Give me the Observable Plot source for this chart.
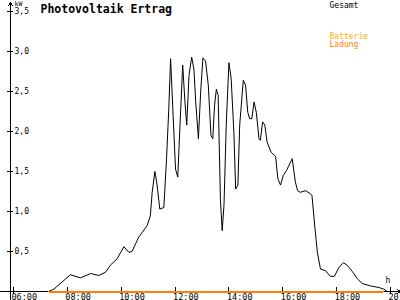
<!DOCTYPE html>
<html><head><meta charset="utf-8">
<script src="https://cdn.jsdelivr.net/npm/d3@7"></script>
<script src="https://cdn.jsdelivr.net/npm/@observablehq/plot@0.6"></script>
<style>body{margin:0;background:#fff}</style>
</head><body><div id="chart"></div>
<script>
// Gesamt (total) PV output, kW
const gesamtTimes = ["07:18","07:30","08:07","08:29","08:52","09:10","09:25","09:36","09:51","10:06","10:17","10:24","10:39","10:58","11:05","11:09","11:15","11:20","11:26","11:35","11:41","11:46","11:50","11:55","12:01","12:06","12:11","12:17","12:22","12:26","12:31","12:37","12:42","12:46","12:52","12:57","13:02","13:08","13:14","13:20","13:24","13:28","13:32","13:36","13:41","13:45","13:49","13:54","14:00","14:05","14:11","14:15","14:20","14:24","14:32","14:37","14:42","14:46","14:51","14:56","15:01","15:07","15:10","15:15","15:20","15:25","15:34","15:44","15:49","15:55","16:01","16:08","16:21","16:28","16:33","16:39","16:51","17:02","17:05","17:11","17:17","17:24","17:35","17:46","17:55","18:05","18:15","18:23","18:35","18:46","18:57","19:15","19:34","19:45","19:53"];
const gesamtKW = [0,0.03,0.21,0.17,0.225,0.20,0.24,0.33,0.41,0.56,0.49,0.50,0.68,0.825,0.95,1.24,1.50,1.33,1.03,1.05,1.66,2.28,2.91,2.28,1.53,1.43,2.08,2.83,2.37,2.08,2.70,2.93,2.78,2.37,1.91,2.49,2.92,2.88,2.58,1.95,1.91,2.33,2.53,2.45,1.16,0.76,1.08,2.08,2.86,2.66,1.99,1.28,1.33,2.08,2.64,2.58,2.24,2.16,2.16,2.37,2.24,1.91,1.89,2.12,2.08,1.87,1.74,1.69,1.41,1.33,1.45,1.51,1.66,1.37,1.26,1.24,1.26,1.22,1.20,0.83,0.49,0.28,0.26,0.19,0.19,0.30,0.36,0.33,0.25,0.16,0.10,0.07,0.05,0.03,0];
// Batterie Ladung (battery charging), kW
const ladungTimes = ["07:18","19:44"];
const ladungKW = [0,0];
// ticks
const xTicks = [6,8,10,12,14,16,18,20];
const yTicks = [0.5,1,1.5,2,2.5,3,3.5];
// axis extents (data units)
const axisXStart = 5.52, axisXEnd = 20.37;
const axisYPos = 5.89, axisYBottom = -0.11, axisYTop = 3.61;

const toH = s => { const [h, m] = s.split(":").map(Number); return h + m / 60; };
const gesamt = gesamtTimes.map((t, i) => ({h: toH(t), kw: gesamtKW[i]}));
const ladung = ladungTimes.map((t, i) => ({h: toH(t), kw: ladungKW[i]}));
const axesLines = [
  {x1: axisXStart, y1: 0, x2: axisXEnd, y2: 0},
  {x1: axisYPos, y1: axisYBottom, x2: axisYPos, y2: axisYTop}
];
const fmtH = d => String(d).padStart(2, "0") + ":00";
const fmtKW = d => d.toFixed(1).replace(".", ",");
const label = (s, o) => Plot.text([s], {text: d => d, frameAnchor: "top-left", lineAnchor: "top", textAnchor: "start", stroke: "none", ...o});

const plot = Plot.plot({
  width: 400, height: 300,
  marginLeft: 13, marginRight: 10, marginTop: 11, marginBottom: 9,
  x: {domain: [6, 20], label: null},
  y: {domain: [0, 3.5], label: null},
  style: {fontFamily: "'DejaVu Sans Mono', monospace", fontSize: "8px", background: "white", color: "black"},
  marks: [
    Plot.arrow(axesLines, {x1: "x1", y1: "y1", x2: "x2", y2: "y2", stroke: "black", strokeWidth: 1, headLength: 6, headAngle: 70, shapeRendering: "crispEdges"}),
    Plot.axisX({ticks: xTicks, tickSize: 7, dy: -4, fill: "none", stroke: "black", label: null, shapeRendering: "crispEdges"}),
    Plot.axisX({ticks: xTicks, tickSize: 0, tickPadding: 2, tickFormat: fmtH, textAnchor: "start", dx: -2, fontSize: 8.5, fill: "black", label: null}),
    Plot.axisY({ticks: yTicks, tickSize: 6, fill: "none", stroke: "black", label: null, shapeRendering: "crispEdges"}),
    Plot.axisY({ticks: yTicks, tickSize: 0, tickPadding: 0, tickFormat: fmtKW, textAnchor: "start", dx: 1, fill: "black", label: null}),
    Plot.line(gesamt, {x: "h", y: "kw", stroke: "black", strokeWidth: 1}),
    Plot.line(ladung, {x: "h", y: "kw", stroke: "#ff8000", strokeWidth: 2, shapeRendering: "crispEdges"}),
    label("Photovoltaik Ertrag", {dx: 27, dy: -7, fontWeight: "bold", fontSize: 11.5, fill: "black"}),
    label("Gesamt", {dx: 316, dy: -9, fontSize: 8, fill: "black"}),
    label("Batterie", {dx: 316, dy: 22, fontSize: 8, fill: "#ffb000"}),
    label("Ladung", {dx: 316, dy: 30, fontSize: 8, fill: "#ff8000"}),
    label("kW", {dx: 1, dy: -10, fontSize: 6.5, fill: "black"}),
    Plot.text(["h"], {text: d => d, frameAnchor: "bottom-right", lineAnchor: "top", textAnchor: "start", dx: -5, dy: -14, fontSize: 8, fill: "#000000", stroke: "none"})
  ]
});
document.getElementById("chart").appendChild(plot);
</script>
</body></html>
